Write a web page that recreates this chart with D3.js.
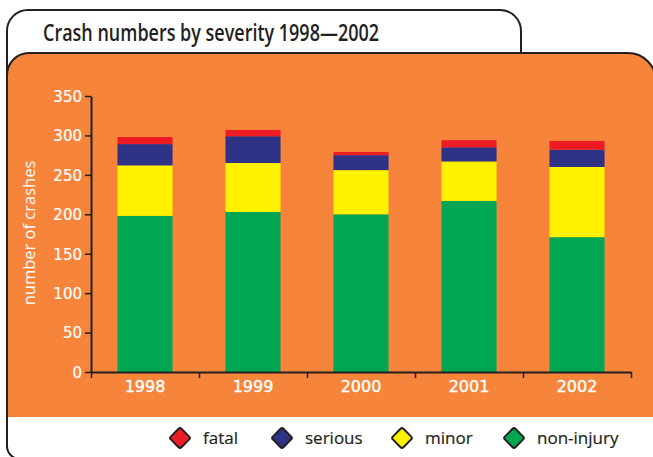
<!DOCTYPE html>
<html>
<head>
<meta charset="utf-8">
<script src="https://cdn.jsdelivr.net/npm/d3@7"></script>
<style>
  body { margin: 0; background: #fff; }
  svg { display: block; }
</style>
</head>
<body>
<svg></svg>
<script>
// values (number of crashes)
let years = ["1998", "1999", "2000", "2001", "2002"]
let nonInjury = [198, 203, 200, 217, 171]
let minor = [64, 62, 56, 50, 89]
let serious = [27, 34, 19, 18, 22]
let fatal = [9, 8, 4, 9, 11]
let yTicks = [0, 50, 100, 150, 200, 250, 300, 350]

let seriesKeys = ["nonInjury", "minor", "serious", "fatal"]
let seriesColors = {nonInjury: "#00a651", minor: "#fff200", serious: "#2e3388", fatal: "#ed1c24"}
let legendItems = [
    {key: "fatal", label: "fatal"},
    {key: "serious", label: "serious"},
    {key: "minor", label: "minor"},
    {key: "nonInjury", label: "non-injury"}
]

let width = 653
let height = 457
let ink = "#231f20"
let orange = "#f6843b"

// plot area
let plotLeft = 91
let plotRight = 631
let plotTop = 96
let plotBottom = 372

let svg = d3.select("svg")
    .attr("width", width)
    .attr("height", height)

let rows = years.map((y, i) => {
    return {year: y, nonInjury: nonInjury[i], minor: minor[i], serious: serious[i], fatal: fatal[i]}
})

let drawFrame = () => {
    // outer white panel with title tab
    svg.append("path")
       .attr("d", "M7,448 L7,31 A21,21 0 0 1 28,10 L500,10 A21,21 0 0 1 521,31 L521,53")
       .attr("fill", "none")
       .attr("stroke", ink)
       .attr("stroke-width", 2)

    svg.append("path")
       .attr("d", "M7,446 A13,13 0 0 0 20,459")
       .attr("fill", "none")
       .attr("stroke", ink)
       .attr("stroke-width", 2)

    // orange panel
    svg.append("path")
       .attr("d", "M7,417 L7,75 A22,22 0 0 1 29,53 L628,53 A28,28 0 0 1 656,81 L656,417 Z")
       .attr("fill", orange)

    svg.append("path")
       .attr("d", "M7,75 A22,22 0 0 1 29,53 L628,53 A28,28 0 0 1 656,81")
       .attr("fill", "none")
       .attr("stroke", ink)
       .attr("stroke-width", 2)

    svg.append("line")
       .attr("x1", 7).attr("x2", 7)
       .attr("y1", 60).attr("y2", 448)
       .attr("stroke", ink)
       .attr("stroke-width", 2)

    svg.append("text")
       .attr("x", 43)
       .attr("y", 41)
       .attr("textLength", 336)
       .attr("lengthAdjust", "spacingAndGlyphs")
       .style("font-family", "'Open Sans', sans-serif")
       .style("font-size", "23px")
       .style("font-weight", 600)
       .style("fill", ink)
       .text("Crash numbers by severity 1998\u20142002")
}

let xScale = d3.scaleBand()
    .domain(years)
    .range([plotLeft, plotRight])
    .paddingInner(0.49)
    .paddingOuter(0.245)

let yScale = d3.scaleLinear()
    .domain([0, 350])
    .range([plotBottom, plotTop])

let drawBars = () => {
    let stacked = d3.stack().keys(seriesKeys)(rows)

    svg.append("g")
       .selectAll("g")
       .data(stacked)
       .enter()
       .append("g")
       .attr("fill", (s) => seriesColors[s.key])
       .selectAll("rect")
       .data((s) => s)
       .enter()
       .append("rect")
       .attr("x", (d) => xScale(d.data.year))
       .attr("width", xScale.bandwidth())
       .attr("y", (d) => yScale(d[1]))
       .attr("height", (d) => yScale(d[0]) - yScale(d[1]))
}

let drawAxes = () => {
    let yAxis = d3.axisLeft(yScale)
        .tickValues(yTicks)
        .tickSize(6)
        .tickPadding(3)
        .tickSizeOuter(0)

    let gy = svg.append("g")
       .attr("transform", "translate(" + plotLeft + ",0)")
       .call(yAxis)
    gy.select(".domain").attr("stroke", ink).attr("stroke-width", 2)
    gy.selectAll(".tick line").attr("stroke", ink).attr("stroke-width", 1.5)
    gy.selectAll(".tick text")
      .attr("fill", "#fff")
      .attr("stroke", "#fff")
      .attr("stroke-width", 0.2)
      .attr("dy", "0.36em")
      .style("font-family", "'DejaVu Sans', sans-serif")
      .style("font-size", "15px")

    // tick marks sit on the band edges, labels sit under the bars
    let edgeScale = d3.scaleLinear().domain([0, years.length]).range([plotLeft, plotRight])

    let xAxis = d3.axisBottom(edgeScale)
        .tickValues(d3.range(years.length + 1))
        .tickSize(6)
        .tickSizeOuter(0)
        .tickFormat("")

    let gx = svg.append("g")
       .attr("transform", "translate(0," + plotBottom + ")")
       .call(xAxis)
    gx.select(".domain").attr("stroke", ink).attr("stroke-width", 2)
    gx.selectAll(".tick line").attr("stroke", ink).attr("stroke-width", 1.5)

    let labelAxis = d3.axisBottom(xScale).tickSize(0).tickPadding(9)
    let gl = svg.append("g")
       .attr("transform", "translate(0," + plotBottom + ")")
       .call(labelAxis)
    gl.select(".domain").remove()
    gl.selectAll(".tick text")
      .attr("fill", "#fff")
      .attr("stroke", "#fff")
      .attr("stroke-width", 0.4)
      .style("font-family", "'DejaVu Sans', sans-serif")
      .style("font-size", "16px")

    svg.append("text")
       .attr("transform", "translate(35," + ((plotTop + plotBottom) / 2 - 1) + ") rotate(-90)")
       .attr("text-anchor", "middle")
       .style("font-family", "'Open Sans', sans-serif")
       .style("font-size", "16.5px")
       .style("fill", "#fff")
       .text("number of crashes")
}

let drawLegend = () => {
    let legendX = [180, 282, 402, 514]

    let item = svg.append("g")
       .selectAll("g")
       .data(legendItems)
       .enter()
       .append("g")
       .attr("transform", (d, i) => "translate(" + legendX[i] + ",438)")

    item.append("rect")
        .attr("x", -7.5).attr("y", -7.5)
        .attr("width", 15).attr("height", 15)
        .attr("rx", 2)
        .attr("transform", "rotate(45)")
        .attr("fill", (d) => seriesColors[d.key])
        .attr("stroke", ink)
        .attr("stroke-width", 2)

    item.append("text")
        .attr("x", 23)
        .attr("y", 6)
        .style("font-family", "'Open Sans', sans-serif")
        .style("font-size", "17px")
        .style("fill", ink)
        .style("stroke", ink)
        .style("stroke-width", 0.2)
        .text((d) => d.label)
}

drawFrame()
drawBars()
drawAxes()
drawLegend()
</script>
</body>
</html>
